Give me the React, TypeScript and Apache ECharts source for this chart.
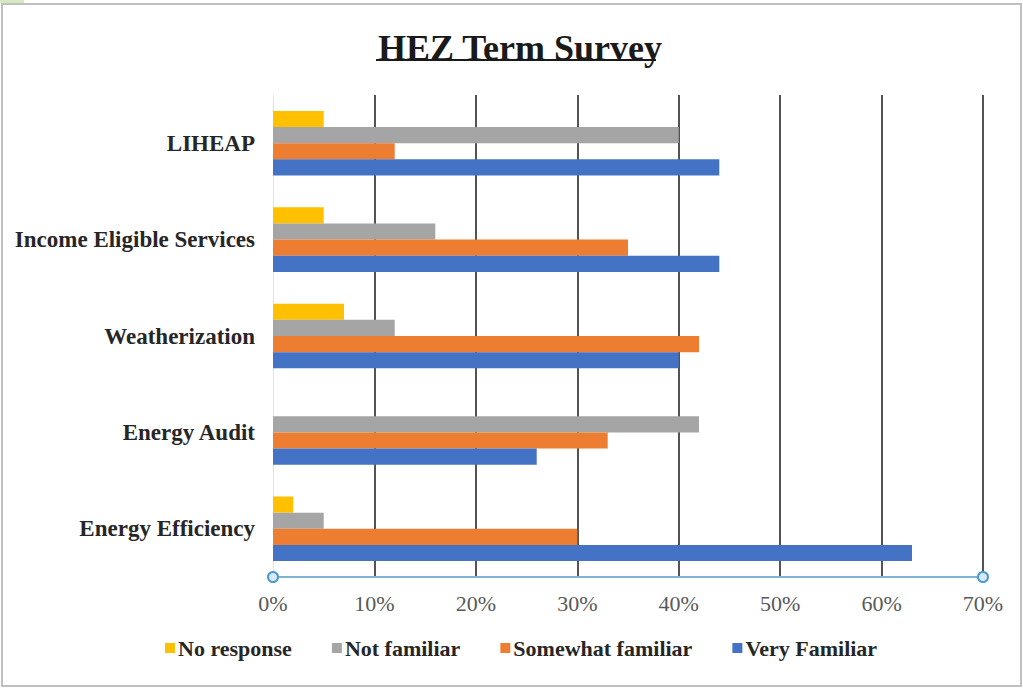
import React, { useEffect, useRef } from "react";
import * as echarts from "echarts";

const categories = ["Energy Efficiency", "Energy Audit", "Weatherization", "Income Eligible Services", "LIHEAP"];
const veryFamiliar = [63, 26, 40, 44, 44];
const somewhatFamiliar = [30, 33, 42, 35, 12];
const notFamiliar = [5, 42, 12, 16, 40];
const noResponse = [2, 0, 7, 5, 5];
const legendOrder = ["No response", "Not familiar", "Somewhat familiar", "Very Familiar"];
const xTicks = [0, 10, 20, 30, 40, 50, 60, 70];

export default function App() {
  const ref = useRef<HTMLDivElement>(null);
  useEffect(() => {
    const chart = echarts.init(ref.current!, null, { renderer: "svg" });
    const serif = "Liberation Serif";
    const mk = (name: string, data: number[], color: string) => ({
      name,
      type: "bar",
      data,
      barGap: "0%",
      barCategoryGap: "33%",
      itemStyle: { color },
    });
    chart.setOption({
      animation: false,
      backgroundColor: "#ffffff",
      textStyle: { fontFamily: serif },
      title: {
        text: "HEZ Term Survey",
        left: 515,
        textAlign: "center",
        top: 25,
        textStyle: { fontFamily: serif, fontWeight: "bold", fontSize: 36, color: "#1a1a1a" },
      },
      legend: {
        data: legendOrder,
        bottom: 24,
        left: 160,
        icon: "rect",
        itemWidth: 10,
        itemHeight: 10,
        itemGap: 40,
        textStyle: { fontFamily: serif, fontWeight: "bold", fontSize: 22, color: "#262626", padding: [0, 0, 0, -2] },
      },
      grid: { left: 273, right: 40, top: 95, bottom: 111, containLabel: false },
      xAxis: {
        type: "value",
        min: xTicks[0],
        max: xTicks[xTicks.length - 1],
        interval: 10,
        axisLabel: {
          formatter: (v: number) => v + "%",
          fontFamily: serif,
          fontSize: 22,
          color: "#595959",
          margin: 15,
        },
        axisLine: { show: true, lineStyle: { color: "#7fb3d5", width: 2 } },
        axisTick: { show: false },
        splitLine: { show: true, showMinLine: false, lineStyle: { color: "#1a1a1a", width: 1.5 } },
      },
      yAxis: {
        type: "category",
        data: categories,
        axisTick: { show: false },
        axisLine: { show: true, lineStyle: { color: "#d6e6f2", width: 1 } },
        axisLabel: { fontFamily: serif, fontWeight: "bold", fontSize: 23, color: "#262626", margin: 18 },
      },
      series: [
        mk("No response", noResponse, "#FFC000"),
        mk("Not familiar", notFamiliar, "#A5A5A5"),
        mk("Somewhat familiar", somewhatFamiliar, "#ED7D31"),
        mk("Very Familiar", veryFamiliar, "#4472C4"),
      ],
    });
    const p0 = chart.convertToPixel({ gridIndex: 0 }, [xTicks[0], 0]) as number[];
    const p1 = chart.convertToPixel({ gridIndex: 0 }, [xTicks[xTicks.length - 1], 0]) as number[];
    const axisY = 577;
    chart.setOption({
      graphic: [
        { type: "rect", shape: { x: 2, y: 4, width: 1019, height: 682 }, style: { fill: "none", stroke: "#c0c0c0", lineWidth: 2 }, silent: true },
        { type: "rect", shape: { x: 0, y: 0, width: 24, height: 3 }, style: { fill: "#d5e8c0" }, silent: true },
        { type: "line", shape: { x1: 376, y1: 60, x2: 656, y2: 60 }, style: { stroke: "#1a1a1a", lineWidth: 2 }, silent: true },
        { type: "circle", shape: { cx: p0[0], cy: axisY, r: 5 }, style: { fill: "#dbeaf6", stroke: "#4a9ad4", lineWidth: 2 }, z: 100 },
        { type: "circle", shape: { cx: p1[0], cy: axisY, r: 5 }, style: { fill: "#dbeaf6", stroke: "#4a9ad4", lineWidth: 2 }, z: 100 },
      ],
    });
    return () => chart.dispose();
  }, []);
  return <div ref={ref} style={{ position: "fixed", left: 0, top: 0, width: 1023, height: 688 }} />;
}
